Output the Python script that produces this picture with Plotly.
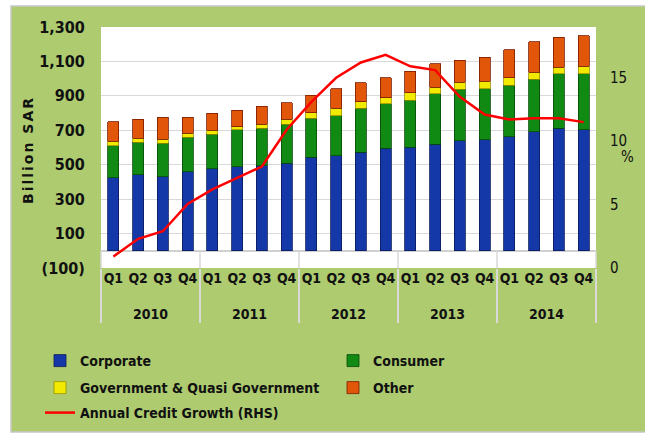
import plotly.graph_objects as go

years = ["2010", "2011", "2012", "2013", "2014"]
quarters = ["Q1", "Q2", "Q3", "Q4"]

corporate = [424, 443, 429, 460, 476, 489, 495, 509, 543, 553, 572, 595, 601, 620, 639, 645, 662, 691, 711, 703]
consumer = [186, 187, 195, 201, 200, 214, 218, 227, 228, 231, 255, 258, 274, 293, 299, 297, 299, 305, 318, 326]
government = [26, 23, 25, 23, 23, 19, 23, 29, 32, 44, 38, 35, 44, 38, 42, 44, 45, 42, 38, 44]
other = [113, 112, 127, 91, 100, 95, 104, 96, 100, 114, 112, 118, 125, 136, 128, 139, 162, 176, 173, 177]
growth = [0.9, 2.3, 2.9, 5.05, 6.2, 7.1, 8.0, 10.9, 13.1, 15.0, 16.2, 16.8, 15.9, 15.6, 13.5, 12.1, 11.7, 11.8, 11.8, 11.5]

left_ticks = [-100, 100, 300, 500, 700, 900, 1100, 1300]
left_text = ["(100)", "100", "300", "500", "700", "900", "1,100", "1,300"]
right_ticks = [0, 5, 10, 15]

# year labels get a leading line break so they sit lower, as in the reference
x_year = ["<br>" + y for y in years for _ in quarters]
x_q = [q for _ in years for q in quarters]
x = [x_year, x_q]

FONT = "DejaVu Sans Condensed, Liberation Sans Narrow, Arial Narrow, sans-serif"
GREEN_BG = "#AECB70"

fig = go.Figure()
bar_specs = [
    ("Corporate", corporate, "#1538A8", "#0A1A5A", "legend"),
    ("Consumer", consumer, "#118A14", "#064A08", "legend"),
    ("Government & Quasi Government", government, "#F2EA00", "#9A9000", "legend2"),
    ("Other", other, "#E2560A", "#7A1A00", "legend2"),
]
for name, vals, col, edge, leg in bar_specs:
    fig.add_trace(go.Bar(x=x, y=vals, name=name, width=0.44, legend=leg,
                         marker=dict(color=col, line=dict(color=edge, width=0.8))))

fig.add_trace(go.Scatter(x=x, y=growth, name="Annual Credit Growth (RHS)", yaxis="y2",
                         legend="legend3",
                         mode="lines", line=dict(color="#FF0000", width=2.5)))

W, H = 645, 437
L, R, T, B = 101, 49, 27, 169
pw, ph = W - L - R, H - T - B

def px_x(p):
    return (p - L) / pw

def px_y(p):
    return (H - B - p) / ph

shapes = [
    dict(type="rect", xref="paper", yref="paper", x0=px_x(11), x1=px_x(650), y0=px_y(432), y1=px_y(6),
         fillcolor=GREEN_BG, line=dict(color="#C8C8C8", width=1.5), layer="below"),
    dict(type="rect", xref="paper", yref="paper", x0=0, x1=1, y0=0, y1=1,
         fillcolor="white", line=dict(width=0), layer="below"),
]
for k in range(6):
    shapes.append(dict(type="line", xref="paper", yref="y", x0=k / 5, x1=k / 5, y0=-100, y1=0,
                       line=dict(color="#D9D9D9", width=1.5)))

legend_common = dict(orientation="h", xanchor="left", yanchor="top", traceorder="normal",
                     entrywidth=248, bgcolor="rgba(0,0,0,0)",
                     font=dict(family=FONT, size=14, weight="bold", color="#111111"))

fig.update_layout(
    width=W, height=H,
    margin=dict(l=L, r=R, t=T, b=B, autoexpand=False),
    paper_bgcolor="white",
    plot_bgcolor="rgba(0,0,0,0)",
    barmode="stack",
    font=dict(family=FONT, color="#111111", size=15),
    shapes=shapes,
    xaxis=dict(type="multicategory", showgrid=False, showline=False, zeroline=False,
               tickangle=0,
               tickfont=dict(family=FONT, size=14, weight="bold", color="#111111"),
               showdividers=True, dividercolor="#D9D9D9", dividerwidth=2,
               ticks=""),
    yaxis=dict(range=[-100, 1300], tickvals=left_ticks, ticktext=left_text,
               showgrid=True, gridcolor="#D9D9D9", gridwidth=1,
               zeroline=True, zerolinecolor="#D0D0D0", zerolinewidth=1.5,
               ticks="outside", ticklen=12, tickcolor="rgba(0,0,0,0)",
               tickfont=dict(family=FONT, size=16, weight="bold", color="#111111")),
    yaxis2=dict(range=[0, 19], tickvals=right_ticks, overlaying="y", side="right",
                showgrid=False, zeroline=False,
                ticks="outside", ticklen=10, tickcolor="rgba(0,0,0,0)",
                tickfont=dict(family=FONT, size=15, color="#111111")),
    legend=dict(x=px_x(40), y=px_y(345), **legend_common),
    legend2=dict(x=px_x(40), y=px_y(372), **legend_common),
    legend3=dict(x=px_x(40), y=px_y(397), **legend_common),
    showlegend=True,
    annotations=[
        dict(text="<span style='letter-spacing:2px'>Billion SAR</span>", textangle=-90,
             xref="paper", yref="paper", x=px_x(18), y=px_y(150), showarrow=False,
             font=dict(family="DejaVu Sans, sans-serif", size=14, weight="bold", color="#111111")),
        dict(text="%", xref="paper", yref="paper", x=px_x(636), y=px_y(157), showarrow=False,
             font=dict(family=FONT, size=15, color="#111111")),
    ],
)

fig.write_html("out.html", config={"displayModeBar": False},
               post_script="document.body.style.margin='0';")
